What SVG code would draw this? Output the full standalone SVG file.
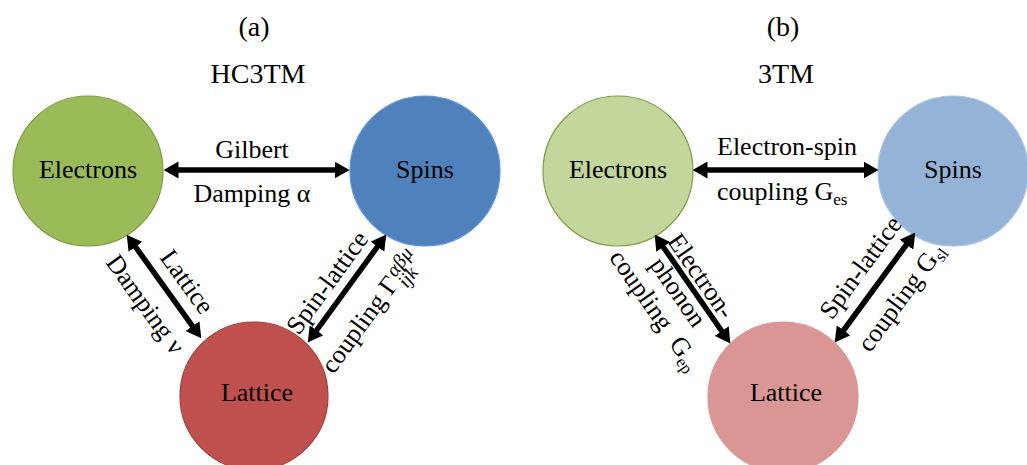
<svg xmlns="http://www.w3.org/2000/svg" width="1027" height="465" viewBox="0 0 1027 465">
<style>
text{font-family:"Liberation Serif","Times New Roman",serif;fill:#000;}
.t{font-size:26px;}
.h{font-size:28px;text-anchor:middle;}
.m{text-anchor:middle;}
.s{font-size:17px;}
.g{font-size:20px;font-style:italic;}
.ar{stroke:#000;stroke-width:5.5;fill:none;marker-start:url(#ah);marker-end:url(#ah);}
</style>
<defs>
<marker id="ah" markerUnits="userSpaceOnUse" viewBox="0 0 15 17" markerWidth="15" markerHeight="17" refX="1.5" refY="8.5" orient="auto-start-reverse">
<path d="M0,0 L15,8.5 L0,17 Z" fill="#000"/>
</marker>
</defs>
<rect width="1027" height="465" fill="#fff"/>

<text class="h" x="254" y="36">(a)</text>
<text class="h" x="258" y="83">HC3TM</text>
<text class="h" x="783" y="36">(b)</text>
<text class="h" x="786" y="83">3TM</text>

<g id="a-electrons"><circle cx="88" cy="171" r="75" fill="#9BBB59" stroke="#7F9C45" stroke-width="1.2"/><text class="t m" x="88" y="178">Electrons</text></g>
<g id="a-spins"><circle cx="425" cy="171" r="75" fill="#4F81BD" stroke="#5B95D6" stroke-width="1.2"/><text class="t m" x="425" y="178">Spins</text></g>
<g id="a-lattice"><circle cx="254" cy="396" r="74" fill="#C0504D" stroke="#9E3E3B" stroke-width="1.2"/><text class="t m" x="257" y="401">Lattice</text></g>

<g id="b-electrons"><circle cx="618" cy="171" r="75" fill="#C3D69B" stroke="#7E9C45" stroke-width="1.2"/><text class="t m" x="618" y="178">Electrons</text></g>
<g id="b-spins"><circle cx="953" cy="171" r="75" fill="#95B3D7" stroke="#A2C0E4" stroke-width="1.2"/><text class="t m" x="953" y="178">Spins</text></g>
<g id="b-lattice"><circle cx="783" cy="397" r="75" fill="#D99694" stroke="#D99694" stroke-width="1.2"/><text class="t m" x="786" y="401">Lattice</text></g>

<g id="connectors">
<line class="ar" x1="177" y1="170" x2="336" y2="170"/>
<line class="ar" x1="134.6" y1="245.6" x2="193.4" y2="327.4"/>
<line class="ar" x1="378.3" y1="245.5" x2="315.7" y2="331.5"/>
<line class="ar" x1="706" y1="170" x2="865" y2="170"/>
<line class="ar" x1="662.4" y1="245.7" x2="722.6" y2="332.3"/>
<line class="ar" x1="907.3" y1="243.5" x2="842.7" y2="331.5"/>
</g>

<g id="labels">
<text class="t m" x="252" y="158">Gilbert</text>
<text class="t m" x="252" y="202">Damping α</text>
<g transform="translate(127,235) rotate(54.3)">
<text class="t m" x="73" y="-13">Lattice</text>
<text class="t m" x="67" y="34">Damping ν</text>
</g>
<g transform="translate(386,235) rotate(-53.9)">
<text class="t m" x="-73" y="-11">Spin-lattice</text>
<text class="t" x="-144" y="40">coupling Γ</text>
<text class="g" x="-29" y="33">αβμ</text>
<text class="g" x="-31" y="49">ijk</text>
</g>
<text class="t" x="717" y="155">Electron-spin</text>
<text class="t" x="717" y="200">coupling G<tspan class="s" dy="5">es</tspan></text>
<g transform="translate(655,235) rotate(55.2)">
<text class="t m" x="60" y="-6">Electron-</text>
<text class="t m" x="60" y="22">phonon</text>
<text class="t m" x="62" y="51">coupling<tspan dx="14">G</tspan><tspan class="s" dy="5">ep</tspan></text>
</g>
<g transform="translate(915,233) rotate(-53.7)">
<text class="t m" x="-60" y="-15">Spin-lattice</text>
<text class="t m" x="-60" y="35">coupling G<tspan class="s" dy="5">sl</tspan></text>
</g>
</g>
</svg>
